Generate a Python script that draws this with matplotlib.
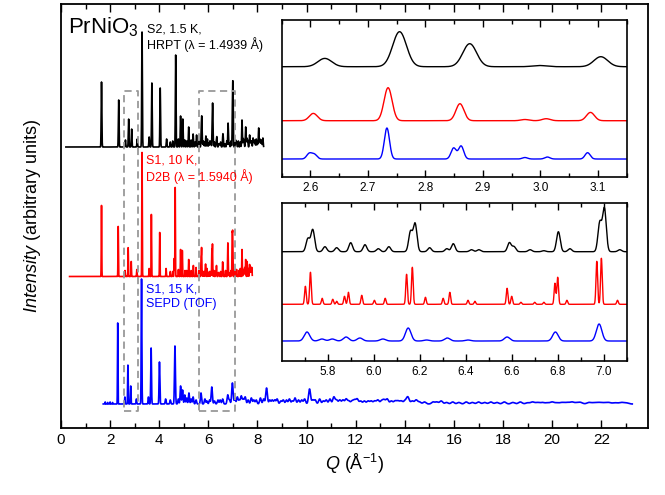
import numpy as np
import matplotlib
matplotlib.use('Agg')
import matplotlib.pyplot as plt

plt.rcParams['font.family'] = ['Liberation Sans', 'DejaVu Sans']
plt.rcParams['mathtext.fontset'] = 'custom'
plt.rcParams['mathtext.rm'] = 'Liberation Sans'
plt.rcParams['mathtext.it'] = 'Liberation Sans:italic'
plt.rcParams['mathtext.bf'] = 'Liberation Sans:bold'

# ---- main panel: peak positions (Q, 1/A) and heights (arbitrary) ----
black_q = [1.65, 2.35, 2.625, 2.755, 2.877, 3.105, 3.30, 3.59, 3.70, 4.04, 4.30, 4.67, 4.87, 4.96,
           5.04, 5.20, 5.38, 5.52, 5.714, 5.735, 5.788, 5.839, 5.90, 5.962, 6.02, 6.066, 6.16, 6.18,
           6.243, 6.318, 6.346, 6.425, 6.457, 6.59, 6.61, 6.68, 6.803, 6.853, 6.983, 7.003, 7.11,
           7.22, 7.30, 7.37, 7.45, 7.52, 7.60, 7.68, 7.76, 7.86, 7.95, 8.05, 8.13, 8.22]
black_h = [65, 47, 7, 28, 18, 8, 115, 10, 64, 59, 8, 92, 31, 28,
           7, 20, 13, 12, 15, 26, 6, 5, 11, 8, 4, 6, 24, 34,
           5, 4, 10, 3, 3, 11, 6, 3, 24, 4, 35, 52, 7,
           6, 5, 27, 6, 20, 7, 12, 6, 7, 8, 19, 6, 9]
black_weak_q = [4.45, 4.55, 4.78, 5.12, 5.30, 5.46, 5.62, 6.1, 6.5, 6.75, 6.92, 7.15, 7.42, 7.56,
                7.72, 7.82, 7.90, 8.00, 8.09, 8.17]
black_weak_h = [5, 6, 8, 6, 7, 5, 6, 5, 5, 6, 6, 5, 8, 9, 6, 9, 5, 6, 8, 7]

red_q = [1.65, 2.33, 2.605, 2.735, 2.86, 3.087, 3.30, 3.59, 3.68, 4.02, 4.28, 4.61, 4.65, 4.87,
         4.94, 5.05, 5.20, 5.39, 5.50, 5.703, 5.725, 5.776, 5.822, 5.873, 5.89, 5.948, 6.003,
         6.05, 6.143, 6.168, 6.225, 6.302, 6.331, 6.41, 6.44, 6.58, 6.60, 6.788, 6.80, 6.84,
         6.97, 6.99, 7.06, 7.15, 7.25, 7.37, 7.45, 7.52, 7.58, 7.68, 7.74]
red_h = [71, 50, 6, 29, 15, 7, 124, 8, 62, 44, 8, 18, 89, 27,
         26, 6, 17, 11, 9, 18, 28, 5, 5, 7, 11, 8, 4,
         5, 27, 32, 6, 5, 11, 4, 3, 14, 7, 19, 23, 4,
         40, 42, 4, 7, 6, 27, 6, 17, 15, 12, 8]
red_weak_q = [4.45, 4.55, 4.78, 5.12, 5.30, 5.62, 6.1, 6.5, 6.7, 6.92, 7.1, 7.3, 7.42, 7.48,
              7.63, 7.71, 7.77]
red_weak_h = [5, 5, 7, 6, 6, 6, 5, 5, 6, 6, 7, 8, 7, 9, 8, 10, 9]

blue_q = [2.31, 2.60, 2.725, 2.84, 3.07, 3.28, 3.56, 3.67, 4.01, 4.26, 4.64, 4.87, 4.95, 5.04,
          5.21, 5.38, 5.70, 5.86, 5.94, 6.14, 6.39, 6.58, 6.79, 6.98, 7.18, 7.34, 7.50, 7.75,
          7.95, 8.12, 8.37, 8.60, 8.80, 9.05, 9.30, 9.53, 9.80, 10.12, 10.35, 10.53, 10.80,
          11.11, 11.35, 11.61, 11.85, 12.06, 12.35, 12.63, 12.90, 13.28, 13.60, 13.85, 14.12,
          14.46, 14.80, 15.15, 15.48, 15.95, 16.5, 17.0, 17.5, 18.05, 18.4, 18.7, 19.2, 19.6,
          20.0, 20.4, 20.8, 21.15, 21.5, 21.9, 22.3, 22.8]
blue_h = [81, 7, 39, 18, 5, 125, 7, 56, 42, 5, 58, 18, 14, 9,
          11, 7, 11, 5, 3, 17, 4, 5, 9, 21, 7, 8, 7, 6,
          4, 6, 16, 4, 5, 4, 5, 6, 4, 15, 4, 5, 4,
          7, 4, 5, 3, 5, 3, 3, 4, 5, 3, 3, 7,
          4, 2, 2, 3, 2, 2, 2, 2, 2, 1.5, 2, 2, 1.5,
          2, 1.5, 2, 1.5, 1.5, 1.5, 1.5, 1.5]
blue_weak_q = [1.8, 1.9, 2.0, 2.1, 4.45, 4.78, 5.12, 5.30, 5.5, 6.05, 6.25, 6.48, 6.86, 7.08,
               7.26, 7.42, 7.62, 7.85, 8.25, 8.5, 8.7, 8.95, 9.18, 9.42, 9.67, 9.92, 10.25,
               10.68, 10.95, 11.22, 11.48, 11.72, 11.95, 12.2, 12.5, 12.77, 13.05, 13.15, 13.45,
               13.72, 14.0, 14.3, 14.6, 15.3, 15.7, 16.2, 16.75, 17.25, 17.75, 19.0, 19.4, 19.8,
               20.2, 20.6, 21.0, 21.7, 22.1, 22.55, 23.0]
blue_weak_h = [2, 1.5, 2, 1.5, 4, 5, 6, 5, 4, 4, 3, 4, 4, 5,
               4, 5, 4, 4, 5, 4, 4, 3, 4, 3, 4, 5, 4,
               3, 5, 4, 4, 3, 4, 3, 3, 3, 3, 4, 3,
               3, 3, 3, 2, 2, 1.5, 1.5, 1.5, 1.5, 1.5, 1.2, 1.5, 1.2,
               1.2, 1.5, 1.2, 1.2, 1.2, 1.2, 1.2]

# ---- inset 1 (2.55 - 3.15) ----
in1_black_q = [2.625, 2.755, 2.877, 2.998, 3.105]
in1_black_h = [8.3, 35, 23, 1.2, 10]
in1_red_q = [2.605, 2.735, 2.86, 2.973, 3.01, 3.087]
in1_red_h = [7.3, 33, 17, 1.2, 2, 8.3]
in1_blue_q = [2.598, 2.607, 2.733, 2.849, 2.862, 2.973, 3.012, 3.082]
in1_blue_h = [5.5, 4.5, 31, 11, 13, 1.5, 2, 6.3]

# ---- inset 2 (5.6 - 7.1) ----
in2_black_q = [5.714, 5.735, 5.788, 5.839, 5.90, 5.962, 6.02, 6.066, 6.16, 6.18, 6.243, 6.318,
               6.346, 6.425, 6.457, 6.59, 6.61, 6.68, 6.74, 6.803, 6.853, 6.983, 7.003, 7.07]
in2_black_h = [13, 22, 5, 4, 9, 7, 3, 5, 20, 28, 4, 3,
               8, 2, 2, 9, 5, 2, 1, 20, 3, 29, 43, 2]
in2_red_q = [5.703, 5.725, 5.776, 5.822, 5.839, 5.873, 5.89, 5.948, 6.003, 6.05, 6.143, 6.168,
             6.225, 6.302, 6.331, 6.41, 6.44, 6.58, 6.60, 6.64, 6.70, 6.74, 6.788, 6.80, 6.84,
             6.97, 6.99, 7.06]
in2_red_h = [18, 32, 6, 5, 3, 8, 12, 9, 4, 6, 30, 37,
             7, 6, 12, 4, 3, 16, 8, 2, 2, 2, 21, 27, 4,
             43, 46, 4]
in2_blue_q = [5.71, 5.775, 5.82, 5.88, 5.94, 6.04, 6.15, 6.23, 6.32, 6.41, 6.58, 6.79, 6.98]
in2_blue_h = [9, 2, 2, 4, 3, 2, 13, 1, 3, 1, 4, 9, 17]


def profile(q, pos, hts, sig):
    y = np.zeros_like(q)
    for p, h in zip(pos, hts):
        s = sig(p) if callable(sig) else sig
        y += h * np.exp(-0.5 * ((q - p) / s) ** 2)
    return y


fig = plt.figure(figsize=(6.65, 4.95), dpi=100)
ax = fig.add_axes([0.0917, 0.1354, 0.8827, 0.8565])

q_black = np.arange(0.2, 8.25, 0.002)
q_red = np.arange(0.35, 7.79, 0.002)
q_blue = np.arange(1.72, 23.26, 0.002)

blue_sig = lambda p: 0.004 * p
y_blue = profile(q_blue, blue_q, blue_h, blue_sig) + profile(q_blue, blue_weak_q, blue_weak_h, blue_sig)
y_red = profile(q_red, red_q, red_h, 0.009) + profile(q_red, red_weak_q, red_weak_h, 0.009)
y_black = profile(q_black, black_q, black_h, 0.013) + profile(q_black, black_weak_q, black_weak_h, 0.013)

ax.plot(q_blue, 24 + y_blue, color='#0000ff', lw=1.2)
ax.plot(q_red, 151.5 + y_red, color='#ff0000', lw=1.2)
ax.plot(q_black, 281 + y_black, color='black', lw=1.2)

# dashed boxes marking the zoomed regions
for x0, x1 in [(2.55, 3.15), (5.6, 7.1)]:
    ax.plot([x0, x1, x1, x0, x0], [17.3, 17.3, 337.3, 337.3, 17.3], color='#999999',
            lw=1.3, linestyle=(0, (4, 2.5)))

ax.set_xlim(0, 23.9)
ax.set_ylim(0, 424)
ax.set_xticks(np.arange(0, 23, 2))
ax.set_xticks(np.arange(1, 24, 2), minor=True)
ax.set_yticks([])
ax.tick_params(axis='x', which='both', direction='in', top=True, labelsize=11)
ax.tick_params(axis='x', which='major', length=6, width=1)
ax.tick_params(axis='x', which='minor', length=3.5, width=1)
for s in ax.spines.values():
    s.set_linewidth(1.3)

ax.set_xlabel(r'$Q$ (Å$^{-1}$)', fontsize=13)
ax.set_ylabel(r'$Intensity$ (arbitrary units)', fontsize=13, labelpad=13)

ax.text(0.29, 395, r'PrNiO$_3$', fontsize=16, va='baseline')
ax.text(3.52, 405, 'S2, 1.5 K,\nHRPT (λ = 1.4939 Å)', fontsize=9, va='top', color='black')
ax.text(3.48, 273, 'S1, 10 K,\nD2B (λ = 1.5940 Å)', fontsize=9, va='top', color='#ff0000')
ax.text(3.48, 144, 'S1, 15 K,\nSEPD (TOF)', fontsize=9, va='top', color='#0000ff')

# insets
ax1 = fig.add_axes([0.4236, 0.643, 0.5188, 0.3166])
q1 = np.linspace(2.55, 3.15, 3000)
ax1.plot(q1, 110 + profile(q1, in1_black_q, in1_black_h, 0.012), color='black', lw=1)
ax1.plot(q1, 56 + profile(q1, in1_red_q, in1_red_h, 0.007), color='#ff0000', lw=1)
ax1.plot(q1, 17.7 + profile(q1, in1_blue_q, in1_blue_h, 0.0045), color='#0000ff', lw=1)
ax1.set_xlim(2.55, 3.15)
ax1.set_ylim(0, 156.7)
ax1.set_xticks(np.arange(2.6, 3.15, 0.1))
ax1.set_xticks(np.arange(2.55, 3.16, 0.05), minor=True)
ax1.xaxis.set_major_formatter(matplotlib.ticker.FormatStrFormatter('%.1f'))

ax2 = fig.add_axes([0.4236, 0.2707, 0.5188, 0.3192])
q2 = np.linspace(5.6, 7.1, 4000)
ax2.plot(q2, 109.3 + profile(q2, in2_black_q, in2_black_h, 0.008), color='black', lw=1)
ax2.plot(q2, 56.7 + profile(q2, in2_red_q, in2_red_h, 0.0035), color='#ff0000', lw=1)
ax2.plot(q2, 20 + profile(q2, in2_blue_q, in2_blue_h, 0.012), color='#0000ff', lw=1)
ax2.set_xlim(5.6, 7.1)
ax2.set_ylim(0, 158)
ax2.set_xticks(np.arange(5.8, 7.05, 0.2))
ax2.set_xticks(np.arange(5.7, 7.15, 0.1), minor=True)
ax2.xaxis.set_major_formatter(matplotlib.ticker.FormatStrFormatter('%.1f'))

for a in (ax1, ax2):
    a.set_yticks([])
    a.tick_params(axis='x', which='both', direction='in', top=True, labelsize=8.5)
    a.tick_params(axis='x', which='major', length=5, width=1)
    a.tick_params(axis='x', which='minor', length=3, width=1)
    for s in a.spines.values():
        s.set_linewidth(1.2)

fig.savefig('out.png', dpi=100)
